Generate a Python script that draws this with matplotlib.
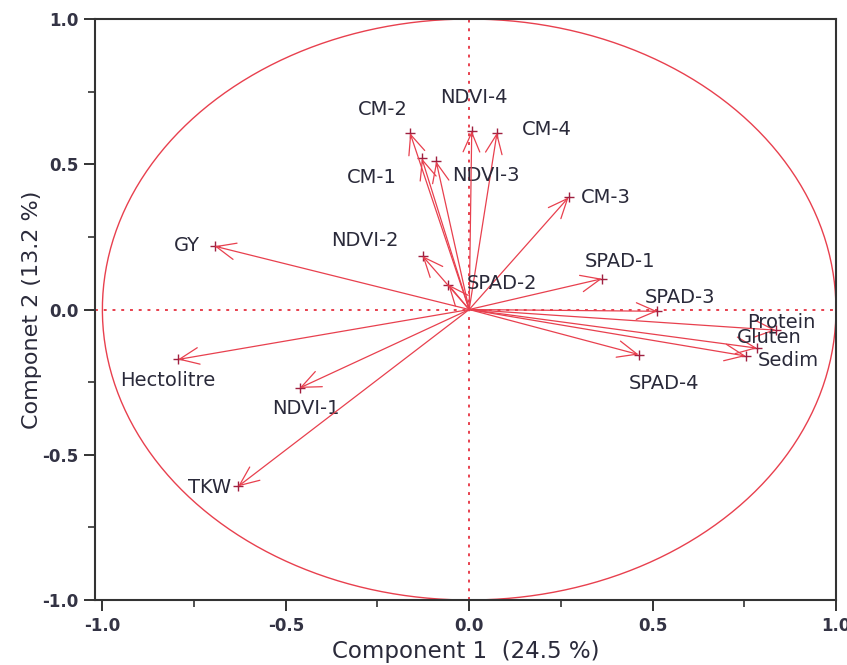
import numpy as np
import matplotlib.pyplot as plt
from matplotlib.ticker import MultipleLocator

names = ['CM-1', 'CM-2', 'CM-3', 'CM-4', 'NDVI-1', 'NDVI-2', 'NDVI-3', 'NDVI-4',
         'SPAD-1', 'SPAD-2', 'SPAD-3', 'SPAD-4', 'GY', 'Hectolitre', 'TKW',
         'Protein', 'Gluten', 'Sedim']
pc1 = [-0.129, -0.161, 0.271, 0.076, -0.462, -0.127, -0.090, 0.007,
       0.362, -0.057, 0.513, 0.462, -0.694, -0.794, -0.630,
       0.836, 0.785, 0.754]
pc2 = [0.520, 0.607, 0.386, 0.609, -0.270, 0.184, 0.510, 0.615,
       0.106, 0.086, -0.006, -0.155, 0.218, -0.172, -0.609,
       -0.071, -0.133, -0.160]

# where each label sits (centre of text)
label_pos = {
    'CM-1': (-0.265, 0.456), 'CM-2': (-0.235, 0.687), 'CM-3': (0.372, 0.384),
    'CM-4': (0.212, 0.618), 'NDVI-1': (-0.445, -0.339), 'NDVI-2': (-0.284, 0.236),
    'NDVI-3': (0.045, 0.463), 'NDVI-4': (0.013, 0.731), 'SPAD-1': (0.411, 0.164),
    'SPAD-2': (0.090, 0.091), 'SPAD-3': (0.575, 0.040), 'SPAD-4': (0.531, -0.253),
    'GY': (-0.770, 0.222), 'Hectolitre': (-0.821, -0.243), 'TKW': (-0.707, -0.614),
    'Protein': (0.850, -0.043), 'Gluten': (0.818, -0.098), 'Sedim': (0.869, -0.177),
}

red = '#e8404e'
txt = '#2a2a3a'

fig = plt.figure(figsize=(8.47, 6.65), dpi=100)
ax = fig.add_axes([0.1122, 0.0977, 0.8748, 0.8737])

t = np.linspace(0, 2 * np.pi, 400)
ax.plot(np.cos(t), np.sin(t), color=red, lw=1.0)
ax.axhline(0, color=red, lw=1.4, ls=(0, (1.5, 3)))
ax.axvline(0, color=red, lw=1.4, ls=(0, (1.5, 3)))

for n, x, y in zip(names, pc1, pc2):
    ax.annotate('', xy=(x, y), xytext=(0, 0),
                arrowprops=dict(arrowstyle='->,head_length=1.4,head_width=0.6',
                                color=red, lw=0.9, shrinkA=0, shrinkB=0,
                                mutation_scale=10))
    ax.plot(x, y, '+', color='#a02040', ms=7, mew=1.0)
    lx, ly = label_pos[n]
    ax.text(lx, ly, n, fontsize=14, color=txt, ha='center', va='center')

ax.set_xlim(-1.02, 1.0)
ax.set_ylim(-1.0, 1.0)
ax.xaxis.set_major_locator(MultipleLocator(0.5))
ax.yaxis.set_major_locator(MultipleLocator(0.5))
ax.xaxis.set_minor_locator(MultipleLocator(0.25))
ax.yaxis.set_minor_locator(MultipleLocator(0.25))
ax.tick_params(which='major', direction='out', length=8, width=1.4, colors='#333333',
               labelsize=12, labelcolor='#333344', pad=4)
ax.tick_params(which='minor', direction='out', length=5, width=1.2, colors='#333333')
ax.xaxis.set_major_formatter(plt.FuncFormatter(lambda v, p: '%.1f' % v))
ax.yaxis.set_major_formatter(plt.FuncFormatter(lambda v, p: '%.1f' % v))
for lab in ax.get_xticklabels() + ax.get_yticklabels():
    lab.set_fontweight('bold')
for s in ax.spines.values():
    s.set_linewidth(1.5)
    s.set_color('#333333')

ax.set_xlabel('Component 1  (24.5 %)', fontsize=16.5, color=txt, labelpad=4)
ax.set_ylabel('Componet 2 (13.2 %)', fontsize=16, color=txt, labelpad=0)

fig.savefig('out.png', dpi=100)
